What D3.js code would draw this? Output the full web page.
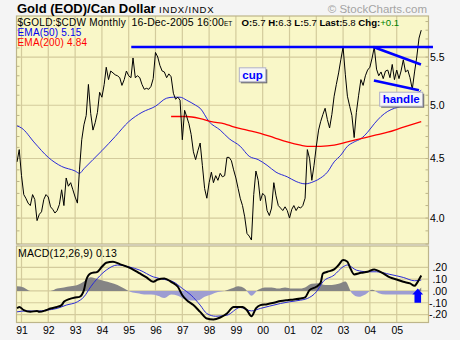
<!DOCTYPE html>
<html>
<head>
<meta charset="utf-8">
<script src="https://cdn.jsdelivr.net/npm/d3@7"></script>
<style>
  html, body { margin: 0; padding: 0; background: #f4f4f4; }
  svg { display: block; font-family: "Liberation Sans", Arial, sans-serif; }
</style>
</head>
<body>
<svg id="chart" width="460" height="340"></svg>
<script>
// ---- data: monthly closes of $GOLD:$CDW, first bar Nov 1990 ----
const firstMonth = "1990-11";
const closes = [
  4.47, 4.58,
  4.35, 4.19, 4.16, 4.12, 4.10, 4.19, 4.15, 3.98, 4.03, 4.05, 4.15, 4.19,
  4.17, 4.09, 4.07, 4.04, 4.06, 4.11, 4.23, 4.10, 4.33, 4.26, 4.29, 4.23,
  4.17, 4.12, 4.40, 4.67, 4.81, 4.90, 5.21, 4.92, 4.76, 4.83, 4.93, 5.13,
  5.08, 5.21, 5.39, 5.26, 5.35, 5.33, 5.31, 5.30, 5.28, 5.20, 5.26, 5.35,
  5.30, 5.28, 5.49, 5.28, 5.30, 5.28, 5.21, 5.16, 5.17, 5.16, 5.19, 5.27,
  5.55, 5.50, 5.41, 5.35, 5.34, 5.28, 5.32, 5.29, 5.12, 5.06, 5.08, 5.05,
  4.67, 4.95, 4.89, 4.82, 4.72, 4.56, 4.49, 4.57, 4.64, 4.44, 4.24, 4.16,
  4.29, 4.38, 4.29, 4.35, 4.31, 4.37, 4.34, 4.35, 4.51, 4.51, 4.48, 4.40,
  4.33, 4.24, 4.16, 4.10, 4.01, 3.88, 3.86, 3.83, 4.19, 4.39, 4.31, 4.14,
  4.20, 4.18, 4.06, 4.02, 4.08, 4.29, 4.18, 4.10, 4.08, 4.06, 4.09, 4.06,
  4.00, 4.07, 4.10, 4.06, 4.09, 4.08, 4.10, 4.16, 4.58, 4.50, 4.31, 4.44,
  4.61, 4.76, 4.84, 4.91, 4.97, 4.86, 4.78, 4.91, 5.09, 5.21, 5.33, 5.47,
  5.61, 5.31, 5.09, 4.99, 4.90, 4.69, 4.93, 5.10, 5.26, 5.20, 5.30, 5.36,
  5.39, 5.49, 5.61, 5.37, 5.30, 5.34, 5.27, 5.35, 5.36, 5.28, 5.42, 5.26,
  5.36, 5.27, 5.35, 5.47, 5.34, 5.36, 5.28, 5.16, 5.34, 5.50, 5.71, 5.80
];

// moving averages [month, value]
const ema50 = [
  ["1990-11",4.80],["1991-01",4.78],["1991-07",4.64],["1992-01",4.51],["1992-07",4.43],
  ["1993-01",4.39],["1993-03",4.37],["1993-05",4.41],["1993-09",4.49],["1994-01",4.57],
  ["1994-07",4.70],["1995-01",4.84],["1995-07",4.93],["1996-01",4.99],["1996-06",5.07],
  ["1996-09",5.08],["1996-12",5.08],["1997-03",5.05],["1997-07",5.00],["1997-09",4.97],
  ["1998-01",4.84],["1998-06",4.76],["1998-10",4.68],["1999-03",4.61],["1999-07",4.52],
  ["1999-11",4.49],["2000-03",4.44],["2000-07",4.38],["2000-12",4.34],["2001-04",4.30],
  ["2001-08",4.28],["2001-12",4.30],["2002-03",4.33],["2002-06",4.38],["2002-09",4.47],
  ["2002-12",4.53],["2003-03",4.61],["2003-06",4.65],["2003-09",4.68],["2003-12",4.74],
  ["2004-03",4.82],["2004-06",4.89],["2004-09",4.94],["2004-12",4.97],["2005-03",4.99],
  ["2005-07",5.06],["2005-12",5.15]
];
const ema200 = [
  ["1996-08",4.89],["1997-03",4.89],["1997-09",4.87],["1998-02",4.84],["1998-08",4.82],
  ["1998-12",4.79],["1999-06",4.76],["1999-12",4.73],["2000-06",4.69],["2000-12",4.65],
  ["2001-06",4.62],["2001-09",4.61],["2002-03",4.61],["2002-09",4.62],["2003-03",4.65],
  ["2003-09",4.68],["2004-03",4.71],["2004-09",4.74],["2005-03",4.78],["2005-12",4.84]
];

// MACD(12,26,9)
const macdLine = [
  ["1990-11",-0.148],["1990-12",-0.135],["1991-02",-0.163],["1991-05",-0.177],["1991-08",-0.169],
  ["1991-09",-0.177],["1991-12",-0.163],["1992-02",-0.148],["1992-05",-0.135],["1992-07",-0.120],
  ["1992-08",-0.092],["1992-10",-0.072],["1993-01",-0.055],["1993-03",-0.050],["1993-05",0.007],
  ["1993-06",0.092],["1993-08",0.148],["1993-11",0.162],["1994-01",0.204],["1994-03",0.238],
  ["1994-06",0.247],["1994-09",0.227],["1995-02",0.191],["1995-06",0.148],["1995-09",0.114],
  ["1995-12",0.077],["1996-02",0.097],["1996-05",0.106],["1996-08",0.077],["1996-11",0.035],
  ["1997-01",-0.036],["1997-03",-0.078],["1997-06",-0.120],["1997-09",-0.177],["1997-12",-0.233],
  ["1998-03",-0.242],["1998-06",-0.225],["1998-09",-0.191],["1998-12",-0.135],["1999-04",-0.135],
  ["1999-06",-0.163],["1999-08",-0.214],["1999-10",-0.148],["1999-12",-0.120],["2000-03",-0.112],
  ["2000-06",-0.100],["2000-09",-0.086],["2000-12",-0.078],["2001-03",-0.072],["2001-06",-0.064],
  ["2001-08",-0.055],["2001-10",0.007],["2002-01",0.035],["2002-03",0.069],["2002-04",0.148],
  ["2002-06",0.162],["2002-09",0.182],["2002-11",0.219],["2003-01",0.261],["2003-03",0.247],
  ["2003-04",0.204],["2003-06",0.140],["2003-09",0.153],["2003-12",0.162],["2004-03",0.182],
  ["2004-04",0.176],["2004-07",0.148],["2004-10",0.114],["2005-01",0.097],["2005-04",0.077],
  ["2005-07",0.064],["2005-09",0.043],["2005-10",0.064],["2005-11",0.097],["2005-12",0.130]
];
const macdSignal = [
  ["1990-11",-0.177],["1991-03",-0.169],["1991-08",-0.171],["1991-12",-0.163],["1992-05",-0.148],
  ["1992-09",-0.120],["1993-02",-0.092],["1993-05",-0.050],["1993-08",0.035],["1993-11",0.106],
  ["1994-03",0.176],["1994-08",0.219],["1995-01",0.204],["1995-06",0.176],["1995-12",0.119],
  ["1996-05",0.097],["1996-09",0.077],["1997-01",0.021],["1997-05",-0.036],["1997-09",-0.120],
  ["1997-12",-0.191],["1998-04",-0.214],["1998-09",-0.205],["1999-03",-0.140],["1999-08",-0.169],
  ["1999-12",-0.148],["2000-04",-0.129],["2000-09",-0.106],["2001-01",-0.092],["2001-06",-0.078],
  ["2001-09",-0.064],["2002-01",-0.008],["2002-04",0.077],["2002-09",0.134],["2003-01",0.204],
  ["2003-03",0.219],["2003-07",0.176],["2003-12",0.162],["2004-04",0.162],["2004-10",0.140],
  ["2005-04",0.114],["2005-09",0.086],["2005-12",0.092]
];
const macdHist = [
  ["1990-11",0.04],["1991-02",0.03],["1991-05",0.0],["1991-08",0.0],["1991-11",0.0],
  ["1992-02",0.0],["1992-05",0.02],["1992-08",0.03],["1992-11",0.04],["1993-02",0.05],
  ["1993-05",0.08],["1993-08",0.115],["1993-11",0.10],["1994-02",0.085],["1994-05",0.07],
  ["1994-08",0.05],["1994-11",0.02],["1995-02",-0.01],["1995-05",-0.02],["1995-08",-0.03],
  ["1995-11",-0.03],["1996-02",-0.04],["1996-05",-0.06],["1996-08",-0.03],["1996-11",-0.04],
  ["1997-02",-0.07],["1997-05",-0.08],["1997-08",-0.08],["1997-11",-0.05],["1998-02",-0.03],
  ["1998-05",-0.01],["1998-08",0.0],["1998-11",0.02],["1999-02",0.04],["1999-05",0.02],
  ["1999-08",-0.04],["1999-11",0.01],["2000-02",0.03],["2000-05",0.03],["2000-08",0.02],
  ["2000-11",0.03],["2001-02",0.02],["2001-05",0.02],["2001-08",0.03],["2001-11",0.06],
  ["2002-02",0.065],["2002-05",0.05],["2002-08",0.05],["2002-11",0.06],["2003-02",0.08],
  ["2003-05",-0.02],["2003-08",-0.05],["2003-11",-0.03],["2004-02",0.01],["2004-05",-0.02],
  ["2004-08",-0.03],["2004-11",-0.03],["2005-02",-0.03],["2005-05",-0.03],["2005-08",-0.03],
  ["2005-11",0.01],["2005-12",0.03]
];

// axis ticks
const yearTicks = [1991,1992,1993,1994,1995,1996,1997,1998,1999,2000,2001,2002,2003,2004,2005];
const priceTicks = [4.0, 4.5, 5.0, 5.5];
const macdTicks = [-0.2, -0.1, 0, 0.1, 0.2];
const macdTickLabels = ["-.20", "-.10", ".00", ".10", ".20"];

// cup-and-handle markings
const resistance = [["1995-02-05", 5.61], ["2006-05-10", 5.61]];
const handleTop = [["2004-02-18", 5.61], ["2005-11-27", 5.42]];
const handleBottom = [["2004-02-25", 5.25], ["2005-10-31", 5.15]];
const notes = [
  { text: "cup", date: "1999-08-16", value: 5.31 },
  { text: "handle", date: "2005-03-03", value: 5.06 }
];
const macdArrow = { date: "2005-10-15", tip: 0.021, neck: -0.03, base: -0.101 };

// ---- layout ----
const L = 16.5, R = 428.5;
const T1 = 16, B1 = 244;      // price panel
const T2 = 246, B2 = 322.5;   // MACD panel
const bg = "#f9f7c8", grid = "#d3cb9c", frame = "#bdb58a";

const pMonth = d3.utcParse("%Y-%m");
const pDay = d3.utcParse("%Y-%m-%d");
const start = pMonth(firstMonth);
const priceData = closes.map((v, i) => ({ date: d3.utcMonth.offset(start, i), v }));
const pairs = arr => arr.map(([d, v]) => ({ date: pMonth(d), v }));

const x = d3.scaleUtc()
  .domain([new Date(Date.UTC(1991, 0, 1)), new Date(Date.UTC(2006, 0, 1))])
  .range([21.5, 423.5]);
const y = d3.scaleLog().domain([3.8, 5.965]).range([B1, T1]);
const ym = d3.scaleLinear().domain([-0.267, 0.38]).range([B2, T2]);

const svg = d3.select("#chart");
const defs = svg.append("defs");
defs.append("clipPath").attr("id", "clipMain")
  .append("rect").attr("x", L).attr("y", T1).attr("width", R - L).attr("height", B1 - T1);
defs.append("clipPath").attr("id", "clipPos")
  .append("rect").attr("x", L).attr("y", T2).attr("width", R - L).attr("height", ym(0) - T2);
defs.append("clipPath").attr("id", "clipNeg")
  .append("rect").attr("x", L).attr("y", ym(0)).attr("width", R - L).attr("height", B2 - ym(0));
defs.append("clipPath").attr("id", "clipMacd")
  .append("rect").attr("x", L).attr("y", T2).attr("width", R - L).attr("height", B2 - T2);

// panel backgrounds
[[T1, B1], [T2, B2]].forEach(([t, b]) => {
  svg.append("rect").attr("x", L).attr("y", t).attr("width", R - L).attr("height", b - t)
    .attr("fill", bg);
});

const yearDates = yearTicks.map(yr => new Date(Date.UTC(yr, 0, 1)));

// grid: price panel
const gMain = svg.append("g");
gMain.selectAll("line.v").data(yearDates).join("line")
  .attr("x1", d => x(d)).attr("x2", d => x(d)).attr("y1", T1).attr("y2", B1)
  .attr("stroke", grid).attr("stroke-width", 1.2);
gMain.selectAll("line.h").data(priceTicks).join("line")
  .attr("x1", L).attr("x2", R).attr("y1", d => y(d)).attr("y2", d => y(d))
  .attr("stroke", grid).attr("stroke-width", 1.2);
// minor ticks every 0.1 on both edges
const minor = d3.range(38, 60).map(k => k / 10);
gMain.selectAll("line.ml").data(minor).join("line")
  .attr("x1", L).attr("x2", L + 3).attr("y1", d => y(d)).attr("y2", d => y(d))
  .attr("stroke", frame);
gMain.selectAll("line.mr").data(minor).join("line")
  .attr("x1", R - 3).attr("x2", R).attr("y1", d => y(d)).attr("y2", d => y(d))
  .attr("stroke", frame);

// grid: MACD panel
const gM = svg.append("g");
gM.selectAll("line.v").data(yearDates).join("line")
  .attr("x1", d => x(d)).attr("x2", d => x(d)).attr("y1", T2).attr("y2", B2)
  .attr("stroke", grid).attr("stroke-width", 1.2);
gM.selectAll("line.h").data(macdTicks).join("line")
  .attr("x1", L).attr("x2", R).attr("y1", d => ym(d)).attr("y2", d => ym(d))
  .attr("stroke", grid).attr("stroke-width", 1.2);

// frames
[[T1, B1], [T2, B2]].forEach(([t, b]) => {
  svg.append("rect").attr("x", L).attr("y", t).attr("width", R - L).attr("height", b - t)
    .attr("fill", "none").attr("stroke", frame).attr("stroke-width", 1.2);
});

// ---- header texts ----
const title = svg.append("text").attr("x", 17).attr("y", 13);
title.append("tspan").text("Gold (EOD)/Can Dollar")
  .attr("font-size", 13).attr("font-weight", "bold");
title.append("tspan").text(" INDX/INDX")
  .attr("font-size", 9.5).attr("letter-spacing", 0.8);

svg.append("text").attr("x", 427).attr("y", 13).attr("text-anchor", "end")
  .attr("font-size", 11.5).attr("fill", "#a4a4a4").text("\u00A9 StockCharts.com");

svg.append("text").attr("x", 17.5).attr("y", 25.5).attr("font-size", 10)
  .attr("letter-spacing", 0.25).text("$GOLD:$CDW Monthly");

const dt = svg.append("text").attr("x", 131.5).attr("y", 25.5).attr("font-size", 10.5)
  .attr("letter-spacing", 0.15);
dt.append("tspan").text("16-Dec-2005 16:00");
dt.append("tspan").attr("font-size", 6.5).attr("letter-spacing", 0).text("ET");

const q = svg.append("text").attr("x", 241.5).attr("y", 25.5).attr("font-size", 9.6);
[["O:", true], ["5.7 ", false], ["H:", true], ["6.3 ", false], ["L:", true], ["5.7 ", false],
 ["Last:", true], ["5.8 ", false], ["Chg:", true]].forEach(([t, b]) => {
  q.append("tspan").attr("font-weight", b ? "bold" : "normal").text(t);
});
q.append("tspan").attr("fill", "#008000").text("+0.1");

svg.append("text").attr("x", 17.5).attr("y", 35.5).attr("font-size", 10)
  .attr("letter-spacing", 0.2).attr("fill", "#0000ee").text("EMA(50) 5.15");
svg.append("text").attr("x", 17.5).attr("y", 45.5).attr("font-size", 10)
  .attr("letter-spacing", 0.2).attr("fill", "#ff0000").text("EMA(200) 4.84");

// ---- price panel series ----
const plot = svg.append("g").attr("clip-path", "url(#clipMain)");
const smooth = d3.line().x(d => x(d.date)).y(d => y(d.v)).curve(d3.curveMonotoneX);

plot.append("path").datum(pairs(ema50)).attr("d", smooth)
  .attr("fill", "none").attr("stroke", "#2a2ad8").attr("stroke-width", 1);
plot.append("path").datum(pairs(ema200)).attr("d", smooth)
  .attr("fill", "none").attr("stroke", "#ff0000").attr("stroke-width", 1.3);
plot.append("path").datum(priceData)
  .attr("d", d3.line().x(d => x(d.date)).y(d => y(d.v)))
  .attr("fill", "none").attr("stroke", "#000").attr("stroke-width", 1)
  .attr("stroke-linejoin", "round");

// cup and handle lines
const segLine = d3.line().x(d => x(pDay(d[0]))).y(d => y(d[1]));
[resistance, handleTop, handleBottom].forEach(seg => {
  svg.append("path").attr("d", segLine(seg))
    .attr("fill", "none").attr("stroke", "#0000ff").attr("stroke-width", 2.6);
});

// note boxes
notes.forEach(n => {
  const cx = x(pDay(n.date)), cy = y(n.value);
  const g = svg.append("g");
  const t = g.append("text").attr("x", cx).attr("y", cy + 4.2).attr("text-anchor", "middle")
    .attr("font-size", 11.5).attr("font-weight", "bold").attr("fill", "#0000ff").text(n.text);
  const bb = t.node().getBBox();
  const w = bb.width + 6, h = 14;
  g.insert("rect", "text").attr("x", cx - w / 2 + 1.5).attr("y", cy - h / 2 + 1.5)
    .attr("width", w).attr("height", h).attr("fill", "#6a6a6a");
  g.insert("rect", "text").attr("x", cx - w / 2).attr("y", cy - h / 2)
    .attr("width", w).attr("height", h).attr("fill", "#f6f6f6")
    .attr("stroke", "#b0b0c8").attr("stroke-width", 1);
});

// price axis labels
const ay = svg.append("g").attr("transform", `translate(${R},0)`)
  .call(d3.axisRight(y).tickValues(priceTicks).tickFormat(d3.format(".1f"))
    .tickSize(0).tickPadding(1.5));
ay.select(".domain").remove();
ay.selectAll("text").attr("font-size", 10.5).attr("font-family", "Liberation Sans, Arial, sans-serif")
  .attr("fill", "#000");

// ---- MACD panel ----
svg.append("text").attr("x", 18).attr("y", 256.5).attr("font-size", 10.5)
  .attr("letter-spacing", 0.15).text("MACD(12,26,9) 0.13");

const mg = svg.append("g").attr("clip-path", "url(#clipMacd)");
const histArea = d3.area().x(d => x(d.date)).y0(ym(0)).y1(d => ym(d.v)).curve(d3.curveMonotoneX);
const histData = pairs(macdHist);
mg.append("path").datum(histData).attr("d", histArea).attr("fill", "#858585")
  .attr("clip-path", "url(#clipPos)");
mg.append("path").datum(histData).attr("d", histArea).attr("fill", "#9d9dd2")
  .attr("clip-path", "url(#clipNeg)");

const mLine = d3.line().x(d => x(d.date)).y(d => ym(d.v)).curve(d3.curveMonotoneX);
mg.append("path").datum(pairs(macdSignal)).attr("d", mLine)
  .attr("fill", "none").attr("stroke", "#2a2ad8").attr("stroke-width", 1);
mg.append("path").datum(pairs(macdLine)).attr("d", mLine)
  .attr("fill", "none").attr("stroke", "#000").attr("stroke-width", 2)
  .attr("stroke-linejoin", "round");

// buy arrow
{
  const ax = x(pDay(macdArrow.date));
  const tip = ym(macdArrow.tip), neck = ym(macdArrow.neck), base = ym(macdArrow.base);
  const pts = [[ax, tip], [ax + 5.4, neck], [ax + 3.3, neck], [ax + 3.3, base],
               [ax - 3.3, base], [ax - 3.3, neck], [ax - 5.4, neck]];
  svg.append("polygon").attr("points", pts.map(p => p.join(",")).join(" "))
    .attr("fill", "#0000ff");
}

// MACD axis labels
const am = svg.append("g").attr("transform", `translate(${R},0)`)
  .call(d3.axisRight(ym).tickValues(macdTicks)
    .tickFormat((d, i) => macdTickLabels[i]).tickSize(0));
am.select(".domain").remove();
am.selectAll("text").attr("x", 18.5).attr("text-anchor", "end").attr("font-size", 10.5)
  .attr("font-family", "Liberation Sans, Arial, sans-serif").attr("fill", "#000");

// year axis
const ax = svg.append("g").attr("transform", `translate(0,${B2})`)
  .call(d3.axisBottom(x).tickValues(yearDates).tickFormat(d3.utcFormat("%y"))
    .tickSize(0).tickPadding(4));
ax.select(".domain").remove();
ax.selectAll("text").attr("font-size", 10.5)
  .attr("font-family", "Liberation Sans, Arial, sans-serif").attr("fill", "#000");
</script>
</body>
</html>
